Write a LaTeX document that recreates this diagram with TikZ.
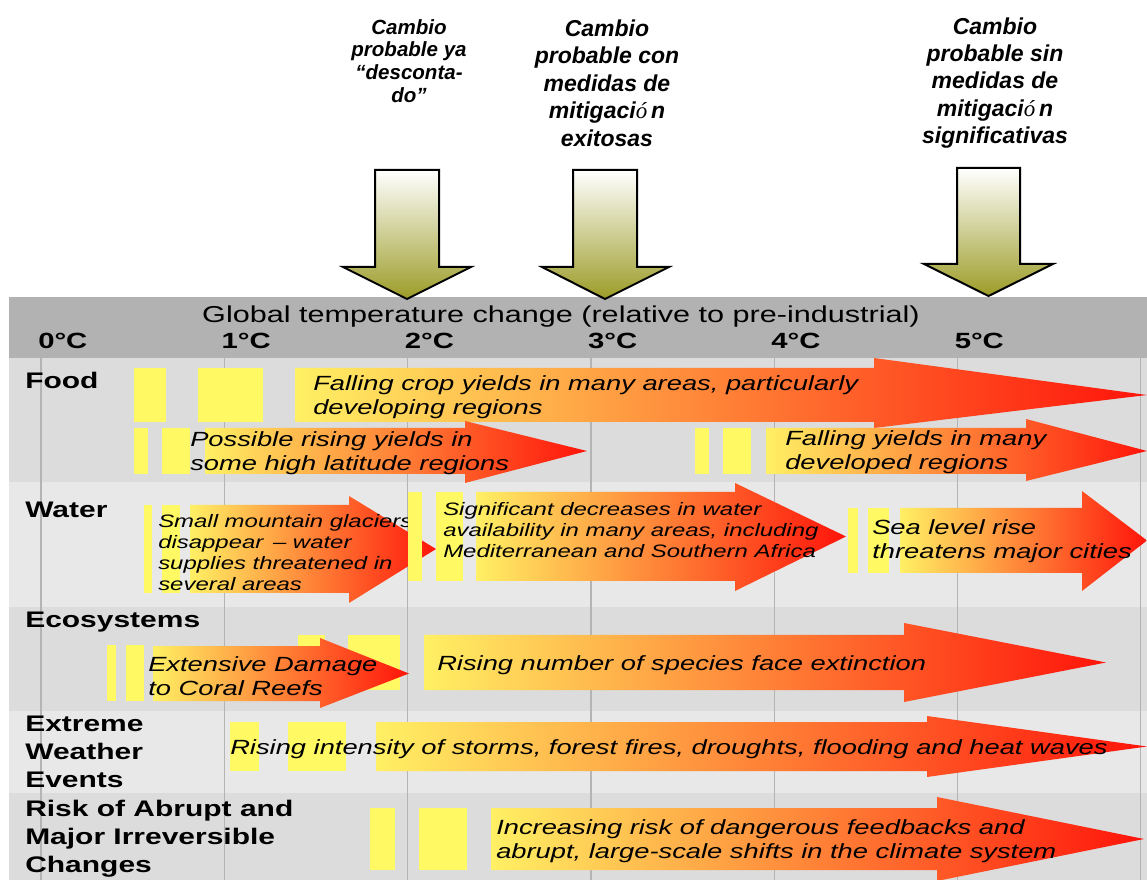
\documentclass[tikz,border=0pt]{standalone}
\usepackage{fontspec}
\setmainfont[FakeStretch=1.33]{Liberation Sans}
\newfontfamily\labelfont{Liberation Sans}
\newfontfamily\accentfont{Liberation Serif}
\definecolor{headergray}{HTML}{B2B2B2}
\definecolor{rowdark}{HTML}{DCDCDC}
\definecolor{rowlight}{HTML}{E8E8E8}
\definecolor{gridgray}{HTML}{B4B4B4}
\definecolor{warnyellow}{HTML}{FFFA64}
\definecolor{heatyellow}{HTML}{FFF064}
\definecolor{heatorange}{HTML}{FFA040}
\definecolor{heatred}{HTML}{FF140A}
\definecolor{pointerolive}{HTML}{9C9C28}
\tikzset{
    heat/.style={left color=heatyellow, middle color=heatorange, right color=heatred},
    warnbar/.style={fill=warnyellow},
    pointer/.style={top color=white, bottom color=pointerolive, draw=black, line width=1.5pt, line join=miter},
    gridline/.style={draw=gridgray, line width=1pt},
    rowlabel/.style={anchor=west, inner sep=0pt, align=left, font=\bfseries\fontsize{16.9}{21}\selectfont},
    templabel/.style={anchor=west, inner sep=0pt, font=\bfseries\fontsize{16.5}{20}\selectfont},
    impact/.style={anchor=west, inner sep=0pt, align=left, font=\itshape\fontsize{15.4}{18}\selectfont},
    smallimpact/.style={anchor=west, inner sep=0pt, align=left, font=\itshape\fontsize{13.5}{15.75}\selectfont},
    scenario/.style={inner sep=0pt, align=center, font=\labelfont\bfseries\itshape\fontsize{17.25}{20.6}\selectfont},
    smallscenario/.style={scenario, font=\labelfont\bfseries\itshape\fontsize{15.4}{17}\selectfont},
}
% shaft start, shaft top, shaft bottom, head base, head top, head bottom, tip
\newcommand{\heatarrow}[7]{%
    \shade[heat] (#1,#2) -- (#4,#2) -- (#4,#5) -- (#7,{(#2+#3)/2}) -- (#4,#6) -- (#4,#3) -- (#1,#3) -- cycle;}
\newcommand{\warnblock}[4]{\fill[warnbar] (#1,#2) rectangle (#3,#4);}
% shaft left, shaft right, top, head base, head left, head right, tip
\newcommand{\downpointer}[7]{%
    \draw[pointer] (#1,#3) -- (#2,#3) -- (#2,#4) -- (#6,#4) -- ({(#1+#2)/2},#7) -- (#5,#4) -- (#1,#4) -- cycle;}
\newcommand{\mitig}{mitigaci{\accentfont\mdseries ó}\,n}
\begin{document}
\begin{tikzpicture}[x=0.75pt, y=-0.75pt]
\useasboundingbox (0,0) rectangle (1147,880);
% rows
\fill[rowdark] (9,358) rectangle (1147,482);
\fill[rowlight] (9,482) rectangle (1147,607);
\fill[rowdark] (9,607) rectangle (1147,711);
\fill[rowlight] (9,711) rectangle (1147,793);
\fill[rowdark] (9,793) rectangle (1147,880);
\foreach \i in {0,...,6}
    \draw[gridline] ({41+183.3*\i},358) -- ({41+183.3*\i},880);
% temperature axis
\fill[headergray] (9,297) rectangle (1147,358);
\node[font=\fontsize{17.25}{20}\selectfont, inner sep=0pt] (axis) at (561,317) {Global temperature change (relative to pre-industrial)};
\foreach \i in {0,...,5}
    \node[templabel] (t\i) at ({38+183.3*\i},341) {\i°C};
\node[rowlabel] (food) at (25,380) {Food};
\node[rowlabel] (water) at (25,510) {Water};
\node[rowlabel] (eco) at (25,622) {Ecosystems};
\node[rowlabel] (weather) at (25,752) {Extreme\\Weather\\Events};
\node[rowlabel] (risk) at (25,839) {Risk of Abrupt and\\Major Irreversible\\Changes};
% food
\warnblock{134}{368}{166}{422}
\warnblock{198}{368}{263}{422}
\heatarrow{295}{368}{422}{874}{358}{428}{1147}
\node[impact] (falling) at (313,397) {Falling crop yields in many areas, particularly\\developing regions};
\warnblock{134}{428}{148}{474}
\warnblock{162}{428}{190}{474}
\heatarrow{205}{428}{474}{465}{421}{483}{587}
\node[impact] (rising) at (190,453) {Possible rising yields in\\some high latitude regions};
\warnblock{695}{428}{709}{474}
\warnblock{723}{428}{751}{474}
\heatarrow{766}{428}{474}{1026}{419}{481}{1147}
\node[impact] (developed) at (785,452) {Falling yields in many\\developed regions};
% water
\warnblock{144}{505}{152}{593}
\warnblock{162}{505}{180}{593}
\heatarrow{190}{505}{593}{349}{496}{603}{436}
\node[smallimpact] (glaciers) at (158,553) {Small mountain glaciers\\disappear \,– water\\supplies threatened in\\several areas};
\warnblock{408}{492}{422}{581}
\warnblock{436}{492}{463}{581}
\heatarrow{476}{492}{581}{735}{483}{591}{846}
\node[smallimpact] (scarcity) at (443,530) {Significant decreases in water\\availability in many areas, including\\Mediterranean and Southern Africa};
\warnblock{848}{508}{858}{573}
\warnblock{868}{508}{889}{573}
\heatarrow{900}{508}{573}{1082}{491}{591}{1147}
\node[impact] (sealevel) at (872,541) {Sea level rise\\threatens major cities};
% ecosystems
\warnblock{107}{645}{116}{701}
\warnblock{126}{645}{144}{701}
\warnblock{298}{635}{325}{690}
\warnblock{348}{635}{400}{690}
\heatarrow{153}{646}{701}{320}{638}{708}{409}
\node[impact] (coral) at (148,676) {Extensive Damage\\to Coral Reefs};
\heatarrow{424}{635}{690}{904}{623}{702}{1106}
\node[impact] (species) at (437,665) {Rising number of species face extinction};
% extreme weather
\warnblock{230}{722}{259}{771}
\warnblock{288}{722}{346}{771}
\heatarrow{376}{722}{771}{927}{716}{777}{1147}
\node[impact] (storms) at (230,749) {Rising intensity of storms, forest fires, droughts, flooding and heat waves};
% abrupt changes
\warnblock{370}{808}{395}{870}
\warnblock{419}{808}{467}{870}
\heatarrow{491}{808}{870}{937}{797}{881}{1144}
\node[impact] (feedback) at (496,841) {Increasing risk of dangerous feedbacks and\\abrupt, large-scale shifts in the climate system};
% scenarios
\downpointer{375}{439}{170}{267}{343}{471}{299}
\downpointer{573}{637}{170}{267}{542}{669}{299}
\downpointer{957}{1020}{168}{264}{924}{1053}{296}
\node[smallscenario] (committed) at (409,61) {Cambio\\probable ya\\“desconta-\\do”};
\node[scenario] (mitigated) at (607,83) {Cambio\\probable con\\medidas de\\\mitig\\exitosas};
\node[scenario] (unmitigated) at (995,83) {Cambio\\probable sin\\medidas de\\\mitig\\significativas};
\end{tikzpicture}
\end{document}
